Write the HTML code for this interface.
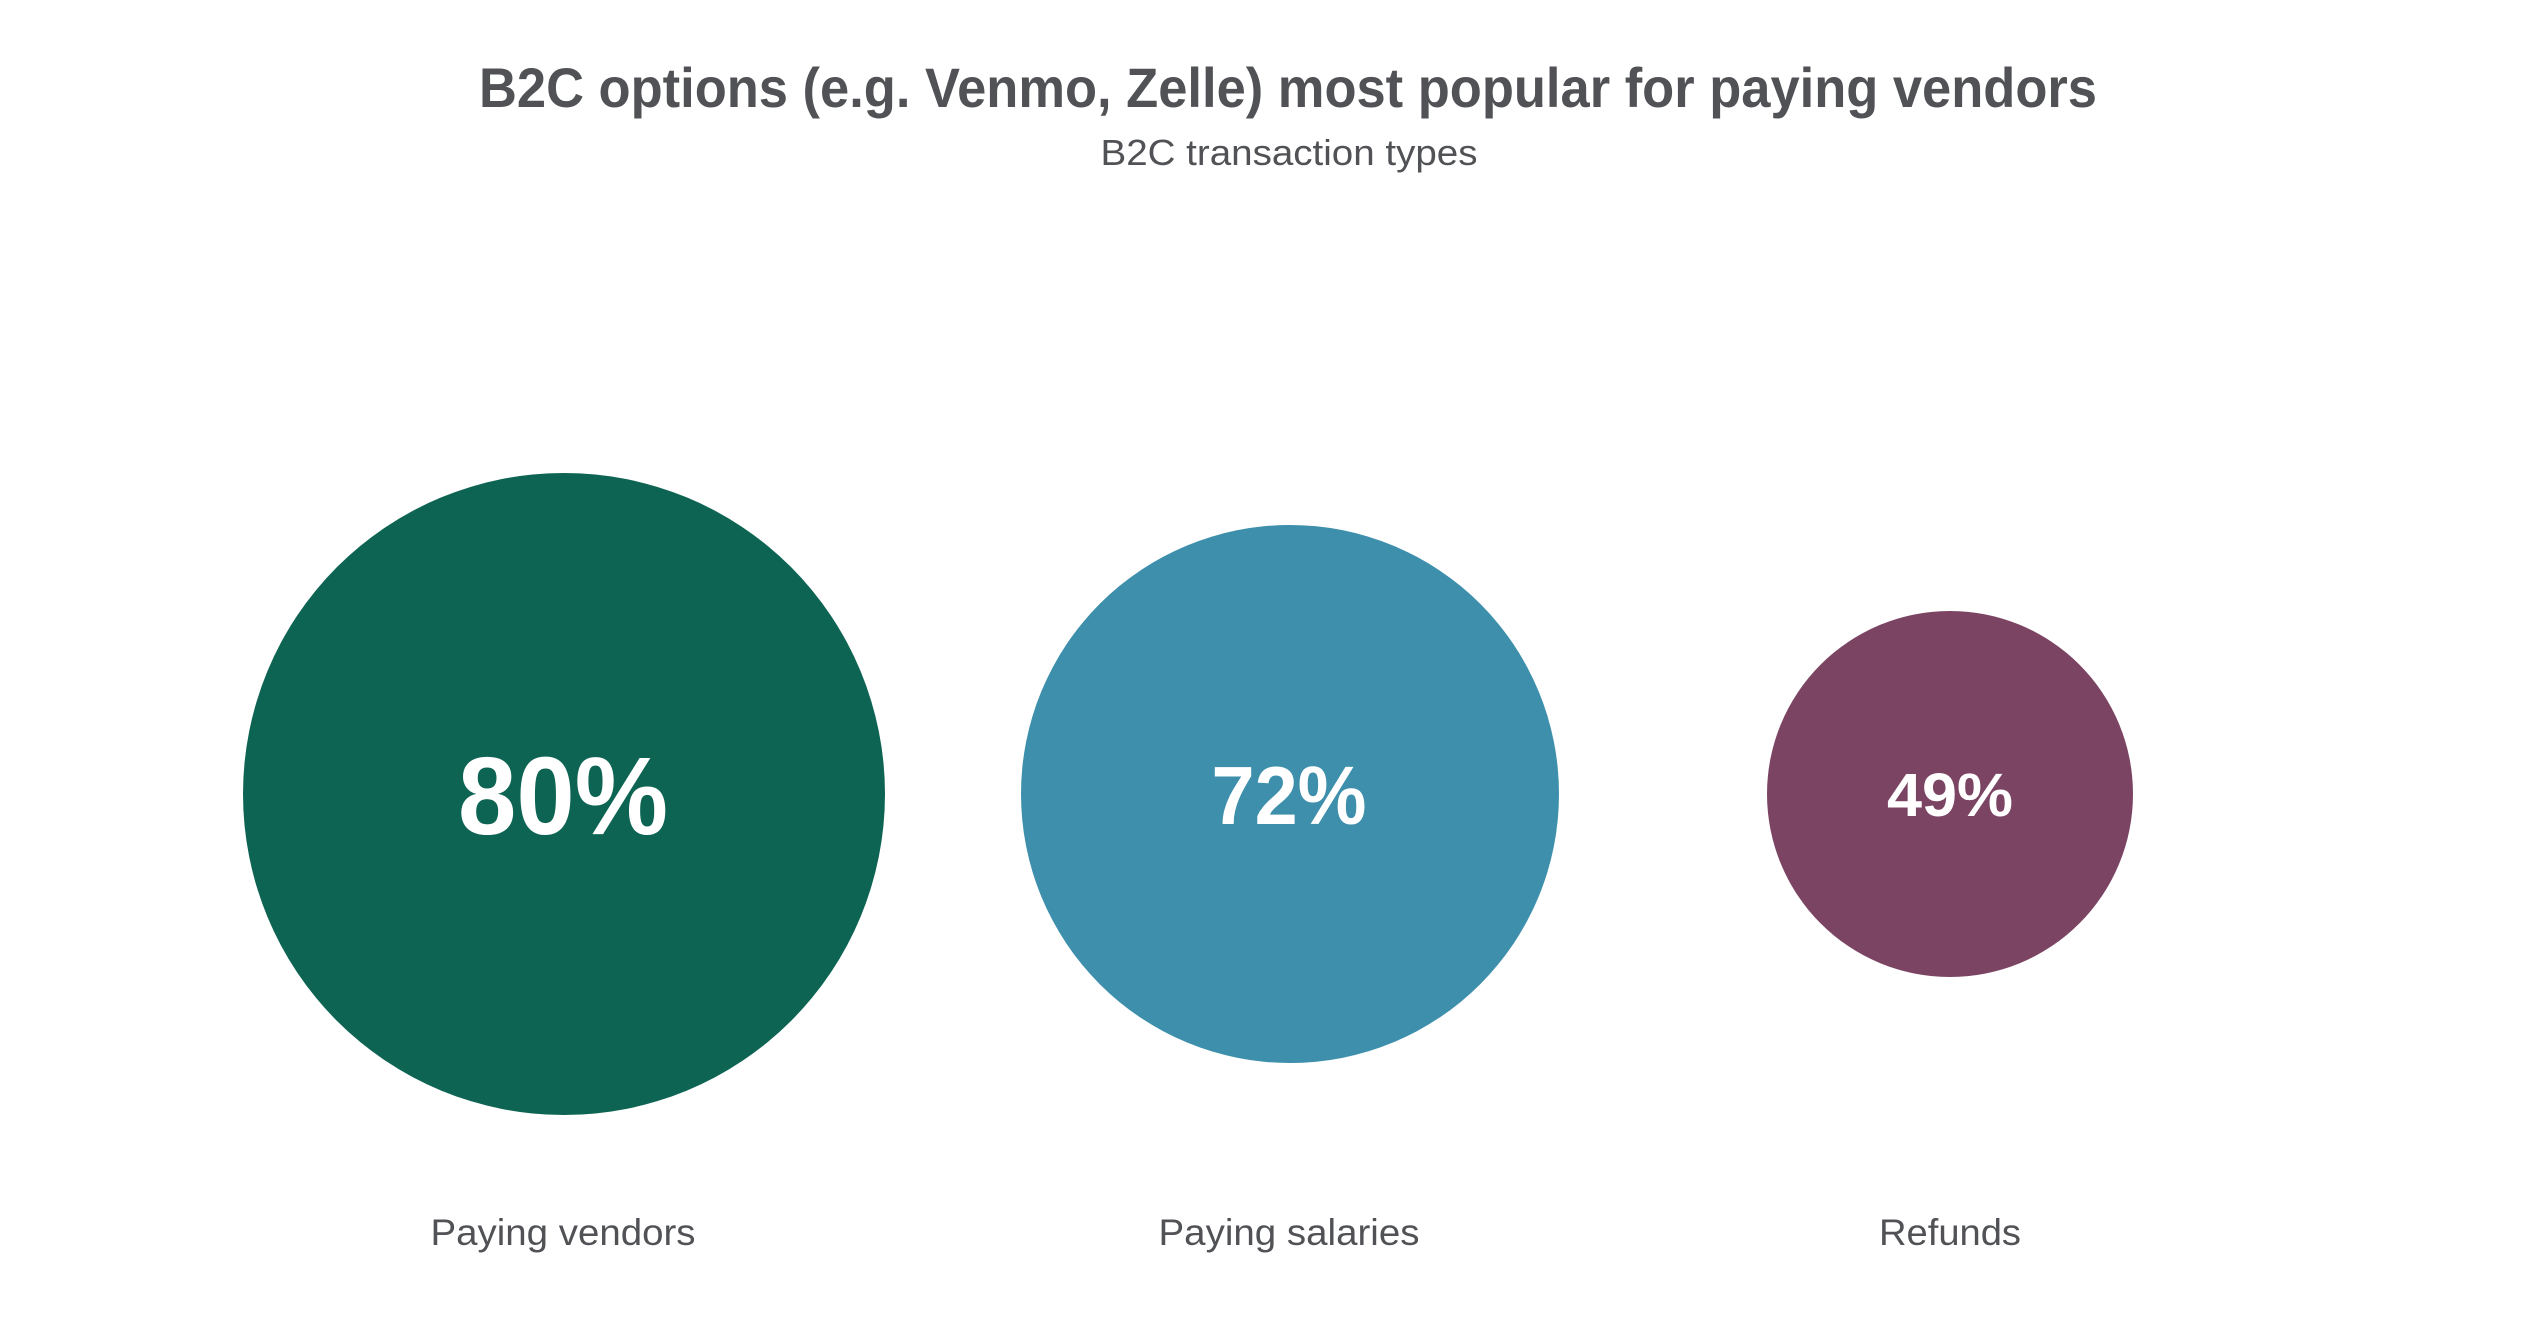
<!DOCTYPE html>
<html><head><meta charset="utf-8"><style>html,body{margin:0;padding:0;background:#fff;}svg{display:block}</style></head>
<body>
<svg width="2542" height="1323" viewBox="0 0 2542 1323" xmlns="http://www.w3.org/2000/svg" font-family="'Liberation Sans', sans-serif">
<rect width="2542" height="1323" fill="#fff"/>
<text x="1288" y="107" text-anchor="middle" font-size="56" font-weight="bold" fill="#505255" textLength="1618" lengthAdjust="spacingAndGlyphs">B2C options (e.g. Venmo, Zelle) most popular for paying vendors</text>
<text x="1289" y="165" text-anchor="middle" font-size="36" fill="#505255" textLength="377" lengthAdjust="spacingAndGlyphs">B2C transaction types</text>
<circle cx="564" cy="794" r="321" fill="#0d6453"/>
<circle cx="1290" cy="794" r="269" fill="#3d8fac"/>
<circle cx="1950" cy="794" r="183" fill="#7b4463"/>
<text x="563" y="834" text-anchor="middle" font-size="110" font-weight="bold" fill="#fff" textLength="210" lengthAdjust="spacingAndGlyphs">80%</text>
<text x="1289" y="824" text-anchor="middle" font-size="83" font-weight="bold" fill="#fff" textLength="155" lengthAdjust="spacingAndGlyphs">72%</text>
<text x="1950" y="816" text-anchor="middle" font-size="61" font-weight="bold" fill="#fff" textLength="126" lengthAdjust="spacingAndGlyphs">49%</text>
<text x="563" y="1245" text-anchor="middle" font-size="37" fill="#505255" textLength="265" lengthAdjust="spacingAndGlyphs">Paying vendors</text>
<text x="1289" y="1245" text-anchor="middle" font-size="37" fill="#505255" textLength="261" lengthAdjust="spacingAndGlyphs">Paying salaries</text>
<text x="1950" y="1245" text-anchor="middle" font-size="37" fill="#505255" textLength="142" lengthAdjust="spacingAndGlyphs">Refunds</text>
</svg>
</body></html>
